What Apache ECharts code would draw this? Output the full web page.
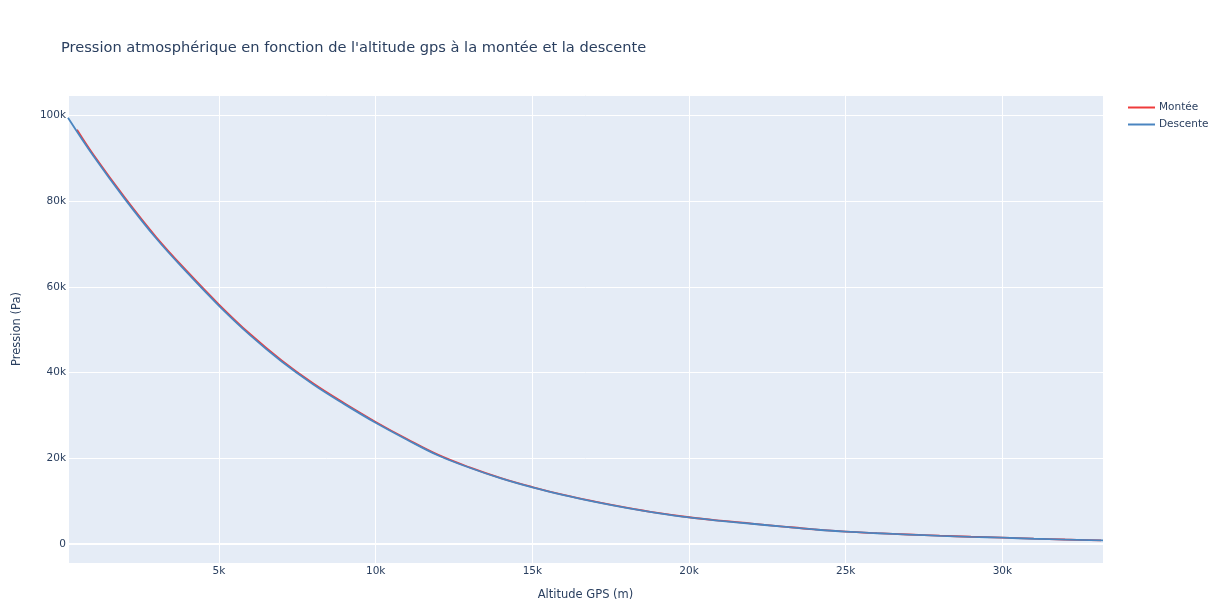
<!DOCTYPE html>
<html>
<head>
<meta charset="utf-8">
<script src="https://cdn.jsdelivr.net/npm/echarts@6/dist/echarts.min.js"></script>
<style>
  html, body { margin: 0; padding: 0; background: #ffffff; }
  #chart { width: 1216px; height: 604px; }
</style>
</head>
<body>
<div id="chart"></div>
<script>
// Ascent (Montée): GPS altitude (m) and measured pressure (Pa)
const monteeAltitude = [469, 1000, 2000, 3000, 4000, 5000, 6000, 7000, 8000, 9000, 10000,
  11000, 12000, 13000, 14000, 15000, 16000, 17000, 18000, 19000, 20000,
  21000, 22000, 23000, 24000, 25000, 26000, 27000, 28000, 29000, 30000,
  31000, 32000, 33150];
const monteePression = [96700, 90800, 80800, 71600, 63500, 55900, 48950, 42850, 37500, 32850, 28500,
  24500, 20800, 17900, 15400, 13300, 11450, 9900, 8500, 7270, 6250,
  5450, 4770, 4080, 3430, 2900, 2530, 2220, 1940, 1700, 1490,
  1250, 1050, 850];

// Descent (Descente): GPS altitude (m) and measured pressure (Pa)
const descenteAltitude = [182, 1000, 2000, 3000, 4000, 5000, 6000, 7000, 8000, 9000, 10000,
  11000, 12000, 13000, 14000, 15000, 16000, 17000, 18000, 19000, 20000,
  21000, 22000, 23000, 24000, 25000, 26000, 27000, 28000, 29000, 30000,
  31000, 32000, 33210];
const descentePression = [99500, 90500, 80500, 71300, 63200, 55600, 48700, 42600, 37300, 32650, 28300,
  24350, 20650, 17800, 15300, 13200, 11400, 9830, 8440, 7230, 6200,
  5410, 4730, 4040, 3400, 2870, 2510, 2200, 1920, 1680, 1470,
  1230, 1040, 840];

// Axis ranges and tick spacing
const xRange = [182, 33210];
const yRange = [-4430, 104800];
const xStep = 5000;
const yStep = 20000;

const seriesNames = ['Montée', 'Descente'];
const titleText = "Pression atmosphérique en fonction de l'altitude gps à la montée et la descente";
const xTitle = 'Altitude GPS (m)';
const yTitle = 'Pression (Pa)';

const FONT = '"DejaVu Sans", Verdana, sans-serif';
const TEXT = '#2a3f5f';

function pairs(xs, ys) { return xs.map((x, i) => [x, ys[i]]); }
function kFormat(v) { return v === 0 ? '0' : (v / 1000) + 'k'; }

const chart = echarts.init(document.getElementById('chart'), null, { renderer: 'canvas' });

chart.setOption({
  backgroundColor: '#ffffff',
  animation: false,
  textStyle: { fontFamily: FONT, color: TEXT },
  title: {
    text: titleText,
    left: 56,
    top: 36,
    textStyle: { fontFamily: FONT, fontSize: 14.6, fontWeight: 'normal', color: TEXT }
  },
  legend: {
    orient: 'vertical',
    left: 1123,
    top: 97,
    itemWidth: 27,
    itemHeight: 2,
    itemGap: 6,
    icon: 'rect',
    data: seriesNames,
    textStyle: { fontFamily: FONT, fontSize: 10.5, color: TEXT, padding: [0, 0, 0, -1] }
  },
  grid: {
    left: 68, right: 113, top: 95, bottom: 41,
    show: true, backgroundColor: '#E5ECF6', borderWidth: 0,
    containLabel: false,
    outerBoundsMode: 'none'
  },
  xAxis: {
    type: 'value',
    min: xRange[0], max: xRange[1],
    minInterval: xStep, maxInterval: xStep,
    name: xTitle, nameLocation: 'middle', nameGap: 26,
    nameTextStyle: { fontFamily: FONT, fontSize: 11.5, color: TEXT },
    axisLine: { show: false }, axisTick: { show: false },
    axisLabel: { fontFamily: FONT, fontSize: 10.5, color: TEXT, margin: 3,
      showMinLabel: false, showMaxLabel: false, formatter: kFormat },
    splitLine: { show: true, lineStyle: { color: '#ffffff', width: 1 } }
  },
  yAxis: {
    type: 'value',
    min: yRange[0], max: yRange[1],
    minInterval: yStep, maxInterval: yStep,
    name: yTitle, nameLocation: 'middle', nameGap: 45, nameRotate: 90,
    nameTextStyle: { fontFamily: FONT, fontSize: 11.5, color: TEXT },
    axisLine: { show: false }, axisTick: { show: false },
    axisLabel: { fontFamily: FONT, fontSize: 10.5, color: TEXT, margin: 2,
      showMinLabel: false, showMaxLabel: false, formatter: kFormat },
    splitLine: { show: true, lineStyle: { color: '#ffffff', width: 1 } }
  },
  series: [
    {
      name: seriesNames[0], type: 'line', showSymbol: false, symbol: 'none',
      smooth: 0.4,
      data: pairs(monteeAltitude, monteePression),
      lineStyle: { color: '#ef3b3b', width: 1.8 }, itemStyle: { color: '#ef3b3b' },
      z: 3,
      markLine: {
        silent: true, symbol: 'none', label: { show: false },
        lineStyle: { color: '#ffffff', width: 2, type: 'solid' },
        data: [{ yAxis: 0 }], z: 1
      }
    },
    {
      name: seriesNames[1], type: 'line', showSymbol: false, symbol: 'none',
      smooth: 0.4,
      data: pairs(descenteAltitude, descentePression),
      lineStyle: { color: '#4a85c0', width: 1.8 }, itemStyle: { color: '#4a85c0' },
      z: 4
    }
  ]
});
</script>
</body>
</html>
